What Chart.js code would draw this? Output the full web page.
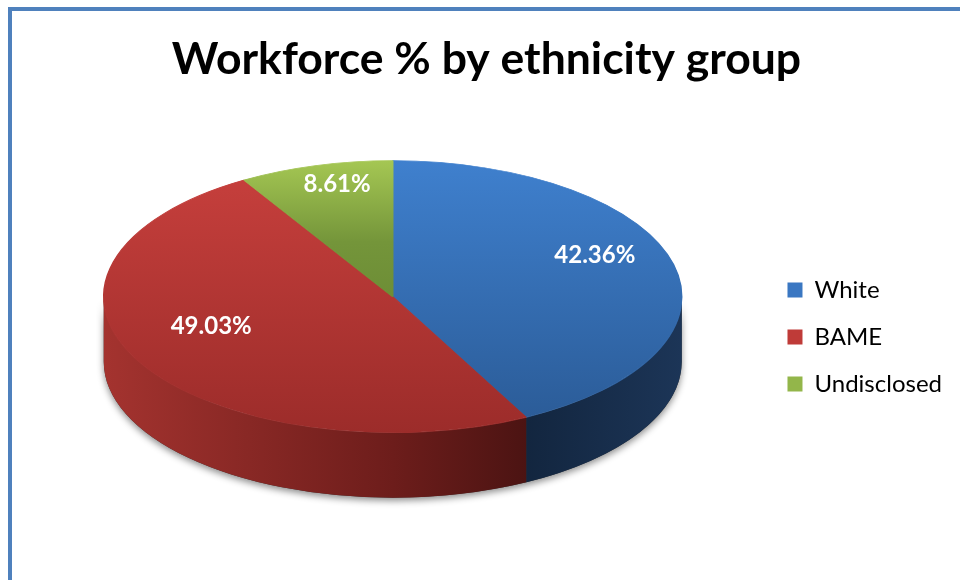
<!DOCTYPE html>
<html>
<head>
<meta charset="utf-8">
<title>Workforce % by ethnicity group</title>
<script src="https://cdn.jsdelivr.net/npm/chart.js@4.4.0/dist/chart.umd.min.js"></script>
<style>
    html, body { margin: 0; padding: 0; background: #fff; overflow: hidden; }
    #wrap { position: relative; width: 960px; height: 580px; }
    #frame {
        position: absolute; left: 8px; top: 7px;
        width: 1000px; height: 700px;
        border: 4px solid #4f81bd; box-sizing: border-box;
    }
    #pie-chart { position: absolute; left: 0; top: 0; }
</style>
</head>
<body>
<div id="wrap">
    <div id="frame"></div>
    <canvas id="pie-chart" width="960" height="580"></canvas>
</div>
<script>
/* =================================
  data
==================================== */
const groups = ['White', 'BAME', 'Undisclosed'];
const shares = [42.36, 49.03, 8.61];

/* =================================
  look of the 3d pie
==================================== */
const pieCanvas = document.getElementById('pie-chart');
const PIE_RX = 289;      // half width of the top ellipse
const PIE_RY = 136;      // half height of the top ellipse
const PIE_DEPTH = 65;    // thickness of the pie
const LABEL_R = 0.72;
const LABEL_LIFT = -18;

// top face gradients (top -> bottom of the circle)
const topShades = [
    [[0, '#3f80ce'], [1, '#2a5a95']],
    [[0, '#c8403d'], [1, '#9c2c2a']],
    [[0, '#a5c753'], [0.3, '#74953a'], [1, '#5c7b2c']]
];
// side gradients (left -> right of the ellipse)
const sideShades = [
    [[0, '#2a4f80'], [0.72, '#12253e'], [1, '#1c3557']],
    [[0, '#a4332f'], [0.5, '#6d1d1b'], [0.77, '#461211'], [1, '#3a0e0d']],
    [[0, '#5d7a2a'], [1, '#4a6222']]
];
const legendColors = ['#3a77c2', '#bf3b38', '#93b64a'];

function makeGradient(ctx, x0, y0, x1, y1, stops) {
    const g = ctx.createLinearGradient(x0, y0, x1, y1);
    stops.forEach(s => g.addColorStop(s[0], s[1]));
    return g;
}

function topColor(context) {
    const chart = context.chart;
    const area = chart.chartArea;
    const i = context.dataIndex;
    if (!area) return legendColors[i];
    return makeGradient(chart.ctx, 0, area.top, 0, area.bottom, topShades[i]);
}

/* =================================
  3d plugin: sides, squash, labels
==================================== */
const pie3d = {
    id: 'pie3d',
    beforeDatasetsDraw(chart) {
        const ctx = chart.ctx;
        const arcs = chart.getDatasetMeta(0).data;
        if (!arcs.length) return;
        const cx = arcs[0].x;
        const cy = arcs[0].y;
        const r = arcs[0].outerRadius;

        // soft shadow under the front wall
        ctx.save();
        ctx.beginPath();
        ctx.ellipse(cx, cy, PIE_RX, PIE_RY, 0, 0, Math.PI, false);
        ctx.ellipse(cx, cy + PIE_DEPTH, PIE_RX, PIE_RY, 0, Math.PI, 0, true);
        ctx.closePath();
        ctx.shadowColor = 'rgba(0, 0, 0, 0.45)';
        ctx.shadowBlur = 7;
        ctx.shadowOffsetY = 3;
        ctx.fillStyle = '#333';
        ctx.fill();
        ctx.restore();

        // front walls of each slice
        arcs.forEach((arc, i) => {
            for (let k = -1; k <= 1; k++) {
                const lo = Math.max(arc.startAngle, 2 * Math.PI * k);
                const hi = Math.min(arc.endAngle, 2 * Math.PI * k + Math.PI);
                if (hi <= lo) continue;
                ctx.save();
                ctx.beginPath();
                ctx.ellipse(cx, cy, PIE_RX, PIE_RY, 0, lo, hi, false);
                ctx.ellipse(cx, cy + PIE_DEPTH, PIE_RX, PIE_RY, 0, hi, lo, true);
                ctx.closePath();
                ctx.fillStyle = makeGradient(ctx, cx - PIE_RX, 0, cx + PIE_RX, 0, sideShades[i]);
                ctx.fill();
                ctx.restore();
            }
        });

        // squash the flat pie into the top ellipse
        ctx.save();
        ctx.translate(cx, cy);
        ctx.scale(PIE_RX / r, PIE_RY / r);
        ctx.translate(-cx, -cy);
    },
    afterDatasetsDraw(chart) {
        const ctx = chart.ctx;
        ctx.restore();
        const arcs = chart.getDatasetMeta(0).data;
        ctx.save();
        ctx.fillStyle = '#fff';
        ctx.font = 'bold 24px Lato';
        ctx.textAlign = 'center';
        ctx.textBaseline = 'middle';
        arcs.forEach((arc, i) => {
            const mid = (arc.startAngle + arc.endAngle) / 2;
            const lx = arc.x + LABEL_R * PIE_RX * Math.cos(mid);
            const ly = arc.y + LABEL_R * PIE_RY * Math.sin(mid) + LABEL_LIFT;
            ctx.fillText(shares[i].toFixed(2) + '%', lx, ly);
        });
        ctx.restore();
    }
};

/* =================================
  chart
==================================== */
let pieData = {
    labels: groups,
    datasets: [{
        data: shares,
        backgroundColor: topColor,
        borderColor: topColor,
        borderWidth: 1,
        clip: false
    }]
};

let pieOptions = {
    responsive: false,
    animation: false,
    layout: {
        padding: { left: 21, right: 8, top: 0, bottom: 85 }
    },
    plugins: {
        title: {
            display: true,
            text: 'Workforce % by ethnicity group',
            color: '#000',
            font: { family: 'Lato', size: 44.5, weight: 'bold' },
            padding: { top: 33, bottom: 12 }
        },
        legend: {
            position: 'right',
            align: 'start',
            title: {
                display: true,
                text: '',
                font: { size: 10 },
                padding: { top: 243, bottom: 0 }
            },
            labels: {
                color: '#000',
                font: { family: 'Lato', size: 24 },
                boxWidth: 15,
                boxHeight: 15,
                padding: 23,
                generateLabels: () => groups.map((g, i) => ({
                    text: g,
                    fillStyle: legendColors[i],
                    strokeStyle: legendColors[i],
                    fontColor: '#000',
                    lineWidth: 0,
                    index: i
                }))
            }
        },
        tooltip: { enabled: false }
    }
};

let pieChart = new Chart(pieCanvas, {
    type: 'pie',
    data: pieData,
    options: pieOptions,
    plugins: [pie3d]
});
</script>
</body>
</html>
